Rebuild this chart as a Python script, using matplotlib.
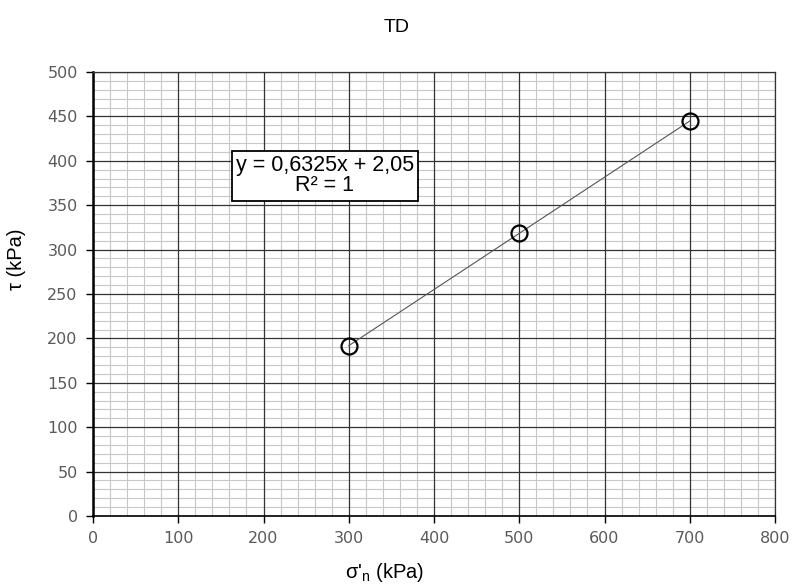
import matplotlib
matplotlib.use("Agg")
import matplotlib.pyplot as plt
import numpy as np
from matplotlib.ticker import MultipleLocator

# Direct shear test results
sigma_n = [300, 500, 700]
tau = [191.8, 318.3, 444.8]
slope, intercept = 0.6325, 2.05
fit_label = "y = 0,6325x + 2,05\nR² = 1"

W, H = 794, 586
fig = plt.figure(figsize=(W / 100, H / 100), dpi=100)
ax = fig.add_axes([93 / W, 1 - 516 / H, 682 / W, 444 / H])

ax.set_xlim(0, 800)
ax.set_ylim(0, 500)
ax.xaxis.set_major_locator(MultipleLocator(100))
ax.yaxis.set_major_locator(MultipleLocator(50))

# graph-paper grid: light minor lines under dark major lines
for x in np.arange(0, 801, 20):
    major = x % 100 == 0
    ax.axvline(x, color="#333333" if major else "#c8c8c8",
               linewidth=0.9 if major else 0.8, zorder=1 if major else 0.5)
for y in np.arange(0, 501, 10):
    major = y % 50 == 0
    ax.axhline(y, color="#333333" if major else "#c8c8c8",
               linewidth=0.9 if major else 0.8, zorder=1 if major else 0.5)

for side in ("top", "right"):
    ax.spines[side].set_color("#333333")
    ax.spines[side].set_linewidth(0.9)
ax.spines["left"].set_linewidth(1.8)
ax.spines["bottom"].set_linewidth(1.2)

ax.tick_params(which="major", direction="out", length=5, width=1,
               colors="black", labelcolor="#5a5a5a", labelsize=11.5, pad=6)

# trend line and measured points
xs = [min(sigma_n), max(sigma_n)]
ax.plot(xs, [slope * x + intercept for x in xs], color="#555555", linewidth=0.8, zorder=3)
ax.plot(sigma_n, tau, linestyle="none", marker="o", markersize=11.5,
        markerfacecolor="none", markeredgecolor="black", markeredgewidth=1.6, zorder=4)

ax.text(272, 383, fit_label, ha="center", va="center", fontsize=15.5,
        family="Liberation Sans", linespacing=0.95, zorder=5,
        bbox=dict(boxstyle="square,pad=0.2", facecolor="white",
                  edgecolor="black", linewidth=1.3))

fig.text(397 / W, 1 - 27 / H, "TD", ha="center", va="center",
         fontsize=14, family="Liberation Sans")
fig.text(385 / W, 1 - 572 / H, "σ'$_\\mathregular{n}$ (kPa)", ha="center", va="center",
         fontsize=14.5, family="Liberation Sans")
fig.text(17 / W, 1 - 259 / H, "τ (kPa)", ha="center", va="center", rotation=90,
         fontsize=14.5, family="Liberation Sans")

fig.savefig("out.png", dpi=100)
